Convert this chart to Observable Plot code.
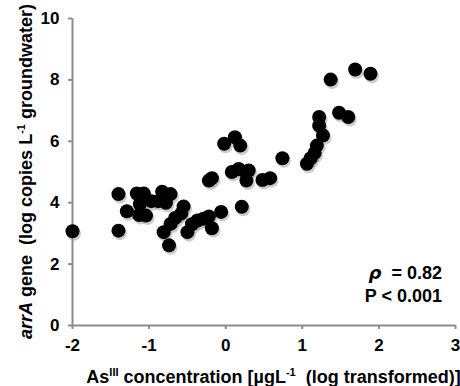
<!DOCTYPE html>
<html><head><meta charset="utf-8">
<script src="https://cdn.jsdelivr.net/npm/d3@7"></script>
<script src="https://cdn.jsdelivr.net/npm/@observablehq/plot@0.6"></script>
<style>
body{margin:0;background:#fff}
svg{font-family:"Liberation Sans Narrow","Arial Narrow","Liberation Sans",Arial,sans-serif}
</style>
</head><body><div id="chart"></div>
<script>
// As(III) concentration (log transformed)
const asConc = [-2.00,-1.40,-1.40,-1.29,-1.16,-1.07,-1.12,-1.13,-1.04,-0.97,
  -0.83,-0.72,-0.88,-0.78,-0.55,-0.58,-0.66,-0.72,-0.81,-0.74,
  -0.50,-0.44,-0.37,-0.29,-0.22,-0.18,-0.06,0.21,-0.22,-0.18,
  -0.02,0.12,0.19,0.08,0.17,0.26,0.30,0.27,0.48,0.58,
  0.74,1.06,1.11,1.16,1.19,1.27,1.22,1.22,1.48,1.60,
  1.37,1.69,1.89];
// arrA gene (log copies per L groundwater)
const arrA = [3.07,4.28,3.09,3.72,4.30,4.30,3.95,3.60,3.58,4.05,
  4.36,4.28,4.05,4.00,3.88,3.65,3.50,3.31,3.04,2.61,
  3.04,3.30,3.42,3.48,3.55,3.17,3.70,3.87,4.72,4.80,
  5.92,6.13,5.86,5.00,5.10,5.00,5.05,4.72,4.74,4.80,
  5.45,5.27,5.45,5.62,5.86,6.19,6.51,6.79,6.93,6.79,
  8.01,8.34,8.20];
const xTicks = [-2,-1,0,1,2,3];
const yTicks = [0,2,4,6,8,10];
const rhoText = "= 0.82";
const pText = "P < 0.001";

const data = asConc.map((x,i)=>({x, y: arrA[i]}));
const axisGray = "#8c8c8c";
const fmt = d => String(d);
const tickFont = {fontSize: 17, fontWeight: "bold", fill: "black", tickFormat: fmt};

const plot = Plot.plot({
  width: 460, height: 386,
  marginLeft: 72, marginRight: 5, marginTop: 18, marginBottom: 61,
  x: {domain: [-2, 3]},
  y: {domain: [0, 10]},
  style: {background: "white", overflow: "visible"},
  marks: [
    Plot.axisY({ticks: yTicks, tickSize: 4, tickPadding: 9, label: null, stroke: axisGray, strokeWidth: 2, ...tickFont}),
    Plot.axisX({ticks: xTicks, tickSize: 4, tickPadding: 9, label: null, stroke: axisGray, strokeWidth: 2, ...tickFont}),
    Plot.ruleX([-2], {stroke: axisGray, strokeWidth: 2}),
    Plot.ruleY([0], {stroke: axisGray, strokeWidth: 2}),
    Plot.dot(data, {x: "x", y: "y", r: 7, fill: "#999", fillOpacity: 0.5, dx: 1.5, dy: 2.5}),
    Plot.dot(data, {x: "x", y: "y", r: 7, fill: "black"})
  ]
});
document.getElementById("chart").appendChild(plot);

const svg = d3.select(plot);
const sx = plot.scale("x"), sy = plot.scale("y");
const x0 = sx.apply(-2), x1 = sx.apply(3), y0 = sy.apply(0), y1 = sy.apply(10);

// X title
const xt = svg.append("text")
  .attr("x", (x0 + x1)/2 + 10).attr("y", 383)
  .attr("text-anchor", "middle").attr("font-size", 18).attr("font-weight", "bold").attr("fill", "black");
xt.append("tspan").text("As");
xt.append("tspan").attr("dy", -7).attr("font-size", 11).text("III");
xt.append("tspan").attr("dy", 7).text(" concentration [µgL");
xt.append("tspan").attr("dy", -7).attr("font-size", 11).text("-1");
xt.append("tspan").attr("dy", 7).text("  (log transformed)]");

// Y title
const yt = svg.append("text")
  .attr("transform", `translate(32,${(y0 + y1)/2}) rotate(-90)`)
  .attr("text-anchor", "middle").attr("font-size", 18).attr("font-weight", "bold").attr("fill", "black")
  .attr("xml:space", "preserve");
yt.append("tspan").attr("font-style", "italic").text("arrA");
yt.append("tspan").text(" gene  (log copies L");
yt.append("tspan").attr("dy", -7).attr("font-size", 11).text("-1");
yt.append("tspan").attr("dy", 7).text(" groundwater)");

// stats annotation
const ax = 442;
const r1 = svg.append("text").attr("x", ax).attr("y", 279).attr("text-anchor", "end")
  .attr("font-size", 18).attr("font-weight", "bold").attr("fill", "black").attr("xml:space", "preserve");
r1.append("tspan").attr("font-style", "italic").attr("font-family", "DejaVu Sans").text("ρ");
r1.append("tspan").text("  " + rhoText);
svg.append("text").attr("x", ax).attr("y", 302).attr("text-anchor", "end")
  .attr("font-size", 18).attr("font-weight", "bold").attr("fill", "black").text(pText);
</script>
</body></html>
